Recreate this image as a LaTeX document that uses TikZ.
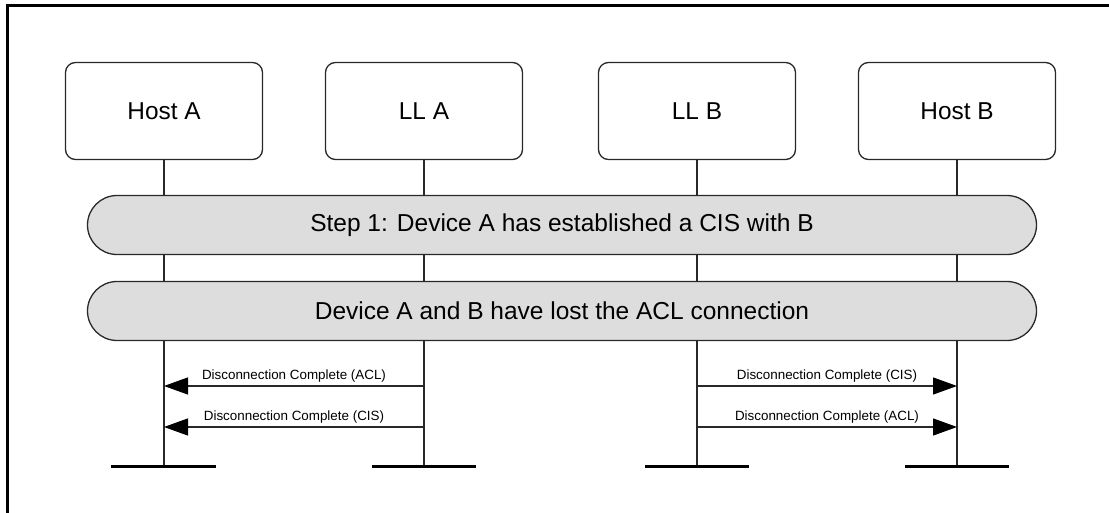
\documentclass[tikz,border=0pt]{standalone}
\usepackage{fontspec}
\setmainfont{Liberation Sans}
\usetikzlibrary{arrows.meta}
\definecolor{linegray}{RGB}{40,40,40}
\definecolor{pillgray}{RGB}{221,221,221}
\begin{document}
\begin{tikzpicture}[x=1pt,y=-1pt,
 entity/.style={draw=linegray, line width=1.3pt, rounded corners=10pt, minimum width=197pt, minimum height=97pt, inner sep=0pt, font=\fontsize{24.4}{28}\selectfont, fill=white},
 phase/.style={draw=linegray, line width=1.3pt, fill=pillgray, rounded corners=29.5pt, minimum width=949pt, minimum height=59pt, inner sep=0pt, font=\fontsize{24.5}{28}\selectfont},
 lifeline/.style={draw=linegray, line width=1.3pt},
 endbar/.style={draw=black, line width=3pt},
 msg/.style={draw=linegray, line width=1.3pt, -{Triangle[length=24pt,width=17pt,color=black]}},
 msglabel/.style={font=\fontsize{13.4}{16}\selectfont, midway, anchor=base, inner sep=0pt, yshift=7pt}
]
\useasboundingbox (0,0) rectangle (1109,513);
\clip (0,0) rectangle (1109,513);
% outer frame
\draw[line width=3pt] (7.5,530) |- (1130,6);

% entities
\node[entity] (hA) at (164,111) {Host A};
\node[entity] (lA) at (424,111) {LL A};
\node[entity] (lB) at (697,111) {LL B};
\node[entity] (hB) at (957,111) {Host B};

% lifeline ends
\coordinate (hAe) at (164,466);
\coordinate (lAe) at (424,466);
\coordinate (lBe) at (697,466);
\coordinate (hBe) at (957,466);

\draw[lifeline] (hA.south) -- (hAe);
\draw[lifeline] (lA.south) -- (lAe);
\draw[lifeline] (lB.south) -- (lBe);
\draw[lifeline] (hB.south) -- (hBe);

% phases
\node[phase] (p1) at (562,225) {Step 1: Device A has established a CIS with B};
\node[phase] (p2) at (562,311) {Device A and B have lost the ACL connection};

% end bars
\draw[endbar] ([xshift=-53pt]hAe) -- ([xshift=52pt]hAe);
\draw[endbar] ([xshift=-52pt]lAe) -- ([xshift=52pt]lAe);
\draw[endbar] ([xshift=-52pt]lBe) -- ([xshift=52pt]lBe);
\draw[endbar] ([xshift=-52pt]hBe) -- ([xshift=52pt]hBe);

% message points
\coordinate (hA1) at (164,386);
\coordinate (lA1) at (424,386);
\coordinate (hA2) at (164,427);
\coordinate (lA2) at (424,427);
\coordinate (lB1) at (697,386);
\coordinate (hB1) at (957,386);
\coordinate (lB2) at (697,427);
\coordinate (hB2) at (957,427);

% messages
\draw[msg] (lA1) -- (hA1) node[msglabel] {Disconnection Complete (ACL)};
\draw[msg] (lA2) -- (hA2) node[msglabel] {Disconnection Complete (CIS)};
\draw[msg] (lB1) -- (hB1) node[msglabel] {Disconnection Complete (CIS)};
\draw[msg] (lB2) -- (hB2) node[msglabel] {Disconnection Complete (ACL)};
\end{tikzpicture}
\end{document}
